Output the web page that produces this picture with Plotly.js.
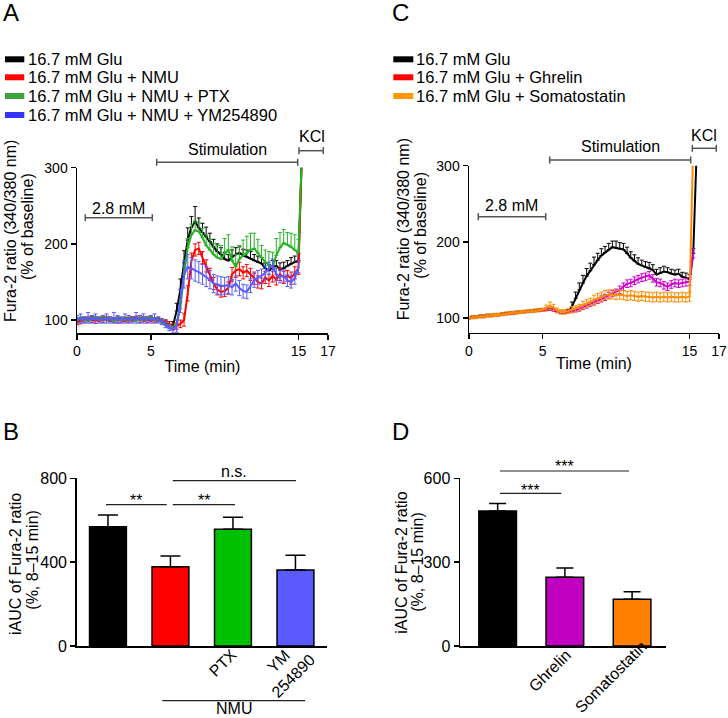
<!DOCTYPE html>
<html><head><meta charset="utf-8">
<script src="https://cdn.plot.ly/plotly-3.0.1.min.js"></script>
<style>html,body{margin:0;padding:0;background:#fff}#chart{width:728px;height:718px}</style>
</head><body><div id="chart"></div>
<script>
// ---------- DATA ----------
const timeA = [0,0.25,0.5,0.75,1,1.25,1.5,1.75,2,2.25,2.5,2.75,3,3.25,3.5,3.75,4,4.25,4.5,4.75,5,5.25,5.5,5.75,6,6.25,6.5,6.75,7,7.25,7.5,7.75,8,8.25,8.5,8.75,9,9.25,9.5,9.75,10,10.25,10.5,10.75,11,11.25,11.5,11.75,12,12.25,12.5,12.75,13,13.25,13.5,13.75,14,14.25,14.5,14.75,15,15.25];
const timeC = [0,0.25,0.5,0.75,1,1.25,1.5,1.75,2,2.25,2.5,2.75,3,3.25,3.5,3.75,4,4.25,4.5,4.75,5,5.25,5.5,5.75,6,6.25,6.5,6.75,7,7.25,7.5,7.75,8,8.25,8.5,8.75,9,9.25,9.5,9.75,10,10.25,10.5,10.75,11,11.25,11.5,11.75,12,12.25,12.5,12.75,13,13.25,13.5,13.75,14,14.25,14.5,14.75,15,15.25,15.5];

const seriesNamesA = ['16.7 mM Glu','16.7 mM Glu + NMU','16.7 mM Glu + NMU + PTX','16.7 mM Glu + NMU + YM254890'];
const gluA = [99,100,101,100,102,101,100,101,100,99,100,101,100,99,100,101,100,102,101,100,101,100,99,
  98,96,94,93,112,140,175,205,222,229,
  221,215,210,203,196,190,186,180,178,183,186,188,185,183,181,178,176,174,168,165,170,171,167,168,171,174,176,178,330];
const gluAerr = [3,3,3,3,3,3,3,3,3,3,3,3,3,3,3,3,3,4,3,3,3,3,3,
  4,4,4,5,10,14,16,16,14,20,
  13,12,12,11,10,10,9,9,8,9,9,8,8,9,9,8,8,8,7,8,8,7,8,8,7,8,8,9,0];
const nmuA = [97,98,100,101,100,99,101,100,102,101,100,99,100,101,100,101,102,100,101,100,101,100,101,
  99,97,94,91,92,95,100,135,178,192,
  194,182,171,160,148,140,137,138,142,160,165,167,162,165,160,155,150,148,156,152,158,153,160,156,158,155,162,168,330];
const nmuAerr = [3,3,3,3,3,3,3,3,3,3,3,3,3,3,3,3,3,3,3,3,3,3,3,
  3,3,4,4,4,5,8,10,10,8,
  8,8,8,8,8,7,7,7,8,9,9,9,8,8,8,8,8,7,8,8,8,7,8,8,7,8,8,8,0];
const ptxA = [100,101,100,99,101,102,100,101,100,101,99,100,101,100,101,100,99,101,100,102,101,100,100,
  97,93,89,88,95,115,160,195,212,218,
  216,208,198,192,186,182,180,187,192,178,170,180,185,188,192,194,188,182,176,172,169,185,195,201,199,196,192,188,330];
const ptxAerr = [3,3,3,3,3,3,3,3,3,3,3,3,3,3,3,3,3,3,3,3,3,3,3,
  3,3,4,4,5,8,10,12,14,12,
  12,12,14,14,15,16,18,20,20,18,16,18,20,22,22,20,18,16,16,18,20,22,20,18,16,18,20,18,0];
const ymA = [101,102,100,103,101,102,100,101,102,100,103,101,100,102,101,100,103,101,102,100,101,102,100,
  98,94,90,87,92,125,160,170,168,165,
  163,160,157,153,148,146,145,145,146,143,148,142,138,137,145,152,156,158,162,168,172,160,157,158,152,150,155,170,null];
const ymAerr = [5,6,4,7,5,6,4,5,6,4,7,5,4,6,5,4,7,5,6,4,5,6,4,
  4,4,4,4,8,15,18,16,14,14,
  14,13,13,12,12,12,12,11,11,10,10,10,9,9,9,9,9,9,9,8,8,8,8,8,8,8,8,8,0];

const seriesNamesC = ['16.7 mM Glu','16.7 mM Glu + Ghrelin','16.7 mM Glu + Somatostatin'];
const gluC = [100,101,101,102,102,103,103,104,104,105,105,106,106,107,107,108,108,109,109,110,110,111,111,
  110,108,107,107,109,
  115,126,137,146,155,162,170,176,182,186,190,193,192,
  191,190,185,179,175,171,169,167,166,163,157,159,161,160,158,157,158,154,153,151,185,330];
const gluCerr = [2,2,2,2,2,2,2,2,2,2,2,2,2,2,2,2,2,2,2,2,2,2,2,
  2,2,2,2,2,
  6,8,9,10,10,10,10,9,9,8,8,8,9,
  8,8,8,8,8,8,7,7,7,7,7,7,7,6,6,6,6,6,6,6,6,0];
const ghrC = [100,101,101,102,102,103,103,104,104,105,105,106,106,107,107,108,108,109,109,110,110,111,111,
  110,108,107,107,108,
  109,110,112,114,116,118,120,122,125,127,130,132,134,
  137,141,145,146,149,151,153,154,156,152,147,146,143,141,144,146,145,146,147,148,185,null];
const ghrCerr = [1,1,1,1,1,1,1,1,1,1,1,1,1,1,1,1,1,1,1,1,1,1,1,
  1,1,1,1,2,
  2,2,3,3,3,3,3,3,4,4,4,4,4,
  5,5,5,5,5,5,5,5,5,5,5,5,5,5,5,5,5,5,5,5,6,0];
const sstC = [100,101,101,102,102,103,103,104,104,105,106,106,107,107,108,108,109,109,110,110,111,
  113,116,114,
  110,108,108,109,
  111,112,114,117,119,121,124,126,128,130,131,131,130,
  131,130,129,130,129,128,129,128,128,127,128,127,128,127,128,127,127,128,127,128,330,null];
const sstCerr = [2,2,2,2,2,2,2,2,2,2,2,2,2,2,2,2,2,2,2,2,2,
  4,5,4,
  3,3,3,3,
  4,4,4,5,5,5,6,6,6,6,6,6,6,
  6,6,6,6,6,6,6,6,6,6,6,6,6,6,6,6,6,6,6,6,0,0];

const barCatsB = ['16.7 mM Glu','NMU','NMU + PTX','NMU + YM254890'];
const barLabelsB = ['','','PTX','YM<br>254890'];
const barValsB = [569,378,557,362];
const barErrB = [56,51,57,71];
const barCatsD = ['16.7 mM Glu','Ghrelin','Somatostatin'];
const barLabelsD = ['','Ghrelin','Somatostatin'];
const barValsD = [483,246,167];
const barErrD = [27,33,27];

const ticksTime = [0,5,15,17];
const ticksA = [100,200,300];
const ticksB = [0,400,800];
const ticksD = [0,300,600];

// ---------- STYLE ----------
const W = 728, H = 718;
const FONT = 'Liberation Sans, Arial, Helvetica, sans-serif';
const px = v => v / W, py = v => 1 - v / H;

function lineTrace(x, y, err, color, xa, ya, sym) {
  return {
    type: 'scatter', mode: 'lines', x: x, y: y, xaxis: xa, yaxis: ya,
    line: {color: color, width: 2}, showlegend: false, hoverinfo: 'skip',
    error_y: {type: 'data', array: err, arrayminus: sym ? err : err.map(() => 0), symmetric: false,
              color: color, thickness: 1, width: 2}
  };
}
const colA = ['#000000', '#FF0000', '#22B422', '#5A5AFF'];
const colC = ['#000000', '#CC00CC', '#FF8C00'];

const traces = [
  lineTrace(timeA, gluA, gluAerr, colA[0], 'x', 'y', false),
  lineTrace(timeA, nmuA, nmuAerr, colA[1], 'x', 'y', true),
  lineTrace(timeA, ptxA, ptxAerr, colA[2], 'x', 'y', false),
  lineTrace(timeA, ymA, ymAerr, colA[3], 'x', 'y', true),
  lineTrace(timeC, gluC, gluCerr, colC[0], 'x3', 'y3', false),
  lineTrace(timeC, ghrC, ghrCerr, colC[1], 'x3', 'y3', true),
  lineTrace(timeC, sstC, sstCerr, colC[2], 'x3', 'y3', true),
  {type: 'bar', x: barCatsB, y: barValsB, xaxis: 'x2', yaxis: 'y2', width: 0.59,
   marker: {color: ['#000000', '#FF0000', '#00C000', '#5A5AFF'], line: {color: '#000', width: 1.5}},
   error_y: {type: 'data', array: barErrB, arrayminus: barErrB.map(() => 0), symmetric: false, color: '#000', thickness: 1.5, width: 10},
   showlegend: false, hoverinfo: 'skip'},
  {type: 'bar', x: barCatsD, y: barValsD, xaxis: 'x4', yaxis: 'y4', width: 0.56,
   marker: {color: ['#000000', '#C000C0', '#FF8000'], line: {color: '#000', width: 1.5}},
   error_y: {type: 'data', array: barErrD, arrayminus: barErrD.map(() => 0), symmetric: false, color: '#000', thickness: 1.5, width: 8.5},
   showlegend: false, hoverinfo: 'skip'}
];

const axBase = {showline: true, linecolor: '#000', linewidth: 1.5, ticks: 'outside', ticklen: 5, tickwidth: 1.5,
  tickcolor: '#000', showgrid: false, zeroline: false, fixedrange: true};
const tf14 = {family: FONT, size: 14, color: '#000'};
const tf16 = {family: FONT, size: 16, color: '#000'};

const layout = {
  width: W, height: H, margin: {l: 0, r: 0, t: 0, b: 0}, paper_bgcolor: '#fff', plot_bgcolor: 'rgba(0,0,0,0)',
  font: {family: FONT, size: 16, color: '#000'}, showlegend: false, bargap: 0,
  xaxis: Object.assign({}, axBase, {domain: [px(77), px(328)], range: [0, 17], anchor: 'y', tickvals: ticksTime,
    tickfont: tf14, title: {text: 'Time (min)', font: tf16, standoff: 2}}),
  yaxis: Object.assign({}, axBase, {domain: [py(333), py(167.7)], range: [83, 300], anchor: 'x', tickvals: ticksA,
    tickfont: tf14}),
  xaxis3: Object.assign({}, axBase, {domain: [px(469), px(719)], range: [0, 17], anchor: 'y3', tickvals: ticksTime,
    tickfont: tf14, title: {text: 'Time (min)', font: tf16, standoff: 0}}),
  yaxis3: Object.assign({}, axBase, {domain: [py(332.7), py(165.7)], range: [80.7, 300], anchor: 'x3', tickvals: ticksA,
    tickfont: tf14}),
  xaxis2: Object.assign({}, axBase, {domain: [px(76.7), px(326.7)], range: [-0.5, 3.5], anchor: 'y2', type: 'category',
    tickvals: barCatsB, showticklabels: false, ticks: ''}),
  yaxis2: Object.assign({}, axBase, {domain: [py(646), py(478.3)], range: [0, 800], anchor: 'x2', tickvals: ticksB,
    tickfont: tf16}),
  xaxis4: Object.assign({}, axBase, {domain: [px(460), px(665.7)], range: [-0.56, 2.5], anchor: 'y4', type: 'category',
    tickvals: barCatsD, showticklabels: false, ticks: ''}),
  yaxis4: Object.assign({}, axBase, {domain: [py(646), py(478.3)], range: [0, 600], anchor: 'x4', tickvals: ticksD,
    tickfont: tf16}),
  shapes: [], annotations: []
};

function hline(x0, x1, y, color, w) {
  layout.shapes.push({type: 'line', xref: 'paper', yref: 'paper', x0: px(x0), x1: px(x1), y0: py(y), y1: py(y),
    line: {color: color || '#000', width: w || 1.5}});
}
function vline(x, y0, y1, color, w) {
  layout.shapes.push({type: 'line', xref: 'paper', yref: 'paper', x0: px(x), x1: px(x), y0: py(y0), y1: py(y1),
    line: {color: color || '#000', width: w || 1.5}});
}
function bracket(x0, x1, y) { hline(x0, x1, y, '#555', 1.5); vline(x0, y - 3.5, y + 3.5, '#555', 1.5); vline(x1, y - 3.5, y + 3.5, '#555', 1.5); }
function text(t, x, y, size, anchor, angle) {
  layout.annotations.push({text: t, xref: 'paper', yref: 'paper', x: px(x), y: py(y), xanchor: anchor || 'center',
    yanchor: 'middle', showarrow: false, textangle: angle || 0, align: 'center',
    font: {family: FONT, size: size || 16, color: '#000'}});
}
function swatch(x0, x1, y, color) {
  layout.shapes.push({type: 'rect', xref: 'paper', yref: 'paper', x0: px(x0), x1: px(x1), y0: py(y + 3), y1: py(y - 3),
    fillcolor: color, line: {width: 0}});
}

// panel letters
text('A', 11, 13, 24); text('C', 400, 13, 24); text('B', 11, 431, 24); text('D', 400, 431, 24);

// legend A
const legA = ['#000000', '#FF0000', '#3DA33D', '#3333FF'];
const rowsA = [59.3, 77.3, 96, 115];
seriesNamesA.forEach((n, i) => { swatch(5, 24.3, rowsA[i], legA[i]); text(n, 26, rowsA[i], 16.5, 'left'); });
// legend C
const legC = ['#000000', '#FF0000', '#FF9900'];
const rowsC = [59.3, 77.3, 96];
seriesNamesC.forEach((n, i) => { swatch(393.3, 413.3, rowsC[i], legC[i]); text(n, 414, rowsC[i], 16.5, 'left'); });

// y-axis titles (two lines each)
const titleTime1 = 'Fura-2 ratio (340/380 nm)', titleTime2 = '(% of baseline)';
const titleAuc1 = 'iAUC of Fura-2 ratio', titleAuc2 = '(%, 8\u201315 min)';
text(titleTime1, 10, 231, 16, 'center', -90); text(titleTime2, 27, 227, 16, 'center', -90);
text(titleTime1, 403.3, 229, 16, 'center', -90); text(titleTime2, 420.7, 225, 16, 'center', -90);
text(titleAuc1, 15, 564, 16, 'center', -90); text(titleAuc2, 31.7, 560, 16, 'center', -90);
text(titleAuc1, 400.7, 563, 16, 'center', -90); text(titleAuc2, 417.3, 561.5, 16, 'center', -90);

// category labels (rotated)
text(barLabelsB[2], 222, 663, 16, 'center', -45);
text(barLabelsB[3], 285.5, 668.5, 16, 'center', -45);
text(barLabelsD[1], 550, 670.5, 16, 'center', -45);
text(barLabelsD[2], 610, 677, 16, 'center', -45);

// protocol brackets A
bracket(85.3, 152.3, 217.7); text('2.8 mM', 118.3, 208.3, 16);
bracket(156.7, 297.7, 162.3); text('Stimulation', 227.7, 150, 16);
bracket(299, 323.3, 150.7); text('KCl', 311.7, 136.7, 16);
// protocol brackets C
bracket(478.3, 545.7, 216.7); text('2.8 mM', 511.7, 205, 16);
bracket(549.7, 690.7, 160); text('Stimulation', 620, 146.7, 16);
bracket(692.3, 716.3, 148.3); text('KCl', 704, 135, 16);

// significance B
hline(106, 166.7, 504.7, '#222', 1.2); text('**', 136.3, 500.5, 16);
hline(172.7, 235, 504.7, '#222', 1.2); text('**', 203.8, 500.5, 16);
hline(172.7, 296, 480.7, '#222', 1.2); text('n.s.', 234.3, 471.7, 16);
hline(162.3, 305, 700.7, '#222', 1.2); text('NMU', 233.5, 708.5, 16);
// significance D
hline(500, 561.3, 493.3, '#222', 1.2); text('***', 530.7, 490, 16);
hline(500, 629, 471, '#222', 1.2); text('***', 564.5, 466.5, 16);

Plotly.newPlot('chart', traces, layout, {staticPlot: true, displayModeBar: false});
</script></body></html>
